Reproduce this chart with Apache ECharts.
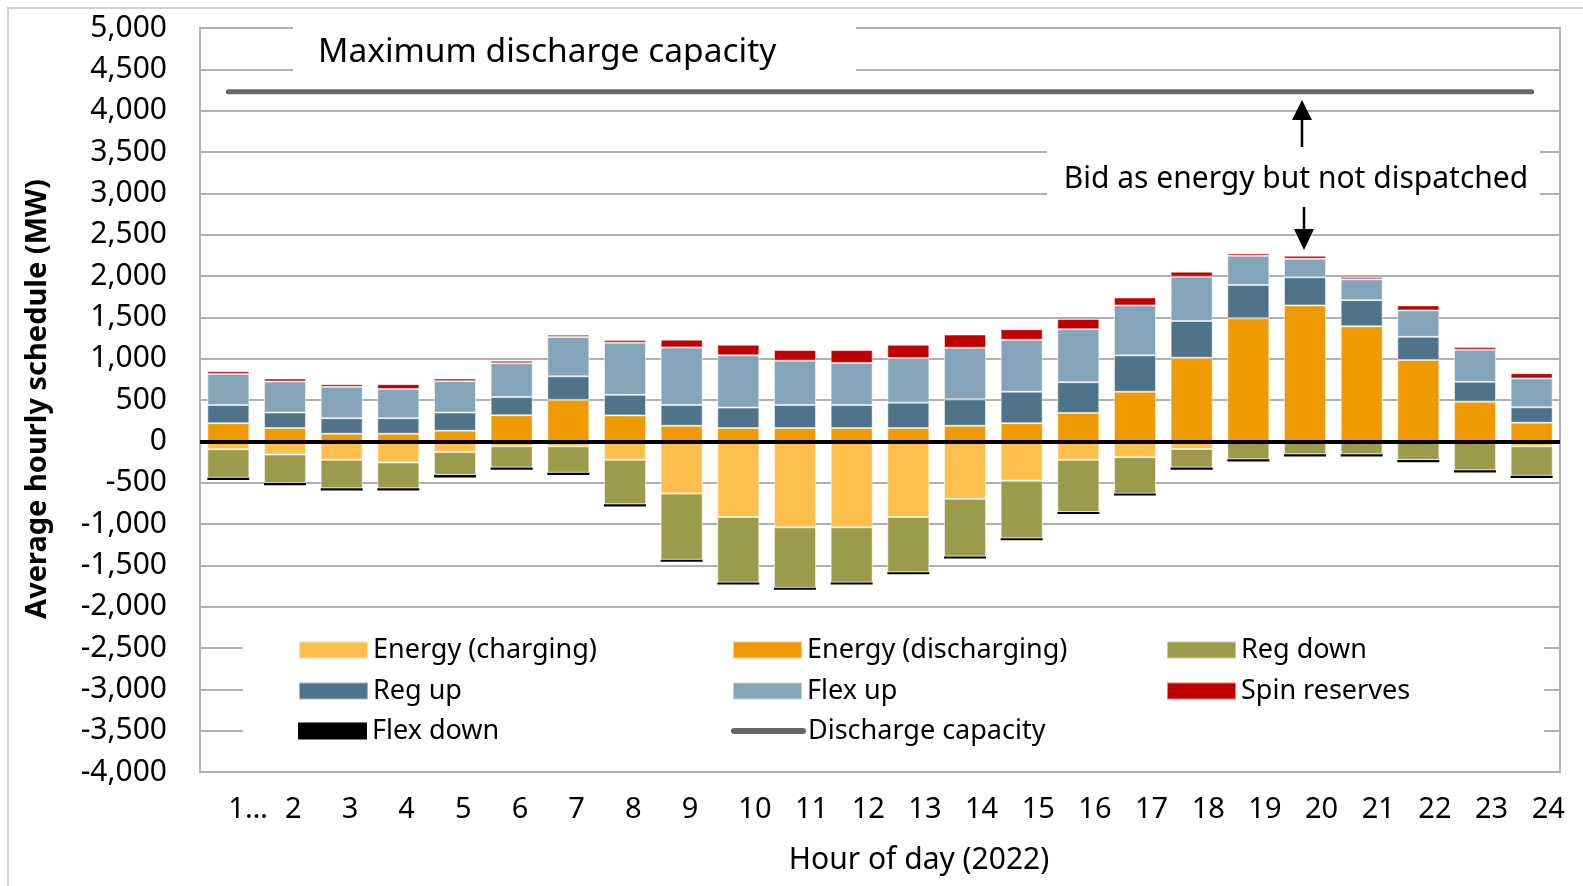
<!DOCTYPE html>
<html>
<head>
<meta charset="utf-8">
<script src="https://cdn.jsdelivr.net/npm/echarts@6/dist/echarts.min.js"></script>
<style>
  html, body { margin: 0; padding: 0; background: #fff; }
  #main { width: 1583px; height: 886px; }
</style>
</head>
<body>
<div id="main"></div>
<script>
// hours of the day, first label is cut off in the original
const hours = ['1…', '2', '3', '4', '5', '6', '7', '8', '9', '10', '11', '12',
  '13', '14', '15', '16', '17', '18', '19', '20', '21', '22', '23', '24'];
const yTicks = { min: -4000, max: 5000, step: 500 };

// MW
const energyCharging = [-96, -160, -224, -256, -128, -60, -60, -224, -632, -916, -1040, -1040,
  -916, -696, -476, -224, -192, -92, 0, 0, 0, 0, 0, -60];
const energyDischarging = [220, 160, 92, 92, 128, 316, 502, 314, 188, 160, 160, 160,
  160, 188, 220, 344, 600, 1012, 1488, 1644, 1392, 984, 480, 224];
const regDown = [-344, -344, -344, -312, -280, -256, -320, -536, -800, -792, -732, -668,
  -668, -696, -696, -632, -440, -224, -216, -156, -156, -226, -350, -356];
const regUp = [220, 188, 188, 188, 220, 220, 284, 248, 252, 248, 280, 280,
  308, 320, 380, 372, 440, 444, 404, 340, 316, 280, 240, 188];
const flexUp = [376, 376, 380, 352, 380, 408, 476, 632, 696, 632, 536, 508,
  540, 624, 628, 640, 604, 536, 352, 224, 252, 320, 388, 348];
const spinReserves = [32, 36, 32, 60, 32, 32, 28, 32, 94, 128, 128, 156,
  160, 160, 128, 124, 96, 60, 28, 36, 28, 60, 32, 64];
const flexDown = [-28, -28, -28, -28, -28, -28, -28, -28, -24, -24, -24, -24,
  -24, -24, -24, -24, -24, -28, -28, -28, -28, -28, -28, -28];
const dischargeCapacity = new Array(24).fill(4230);

const FONT = "'Noto Sans', 'Open Sans', sans-serif";
const GRID_GRAY = '#b0b0b0';

const chart = echarts.init(document.getElementById('main'), null, { renderer: 'canvas' });

function barSeries(name, data, color, border) {
  return {
    name: name,
    type: 'bar',
    stack: 'schedule',
    barWidth: 42,
    data: data,
    itemStyle: {
      color: color,
      borderColor: border ? 'rgba(255,255,255,0.5)' : color,
      borderWidth: border ? 1 : 0
    },
    emphasis: { disabled: true }
  };
}

const legendText = { fontFamily: FONT, fontSize: 27, color: '#000', width: 349, lineHeight: 30 };
function legendRow(top, names) {
  return {
    left: 298,
    top: top,
    width: 1320,
    padding: 0,
    orient: 'horizontal',
    itemWidth: 69,
    itemHeight: 17,
    itemGap: 10,
    selectedMode: false,
    textStyle: legendText,
    data: names
  };
}
const rect = n => ({ name: n, icon: 'rect' });

var option = {
  backgroundColor: '#fff',
  animation: false,
  textStyle: { fontFamily: FONT },
  grid: {
    left: 200,
    right: 23,
    top: 28,
    bottom: 114,
    containLabel: false,
    outerBoundsMode: 'none',
    show: true,
    borderColor: GRID_GRAY,
    borderWidth: 2,
    backgroundColor: 'transparent'
  },
  legend: [
    legendRow(635, [rect('Energy (charging)'), rect('Energy (discharging)'), rect('Reg down')]),
    legendRow(676, [rect('Reg up'), rect('Flex up'), rect('Spin reserves')]),
    legendRow(716, [rect('Flex down'), {
      name: 'Discharge capacity',
      itemStyle: { opacity: 0 },
      lineStyle: { color: '#666666', width: 6, cap: 'round' }
    }])
  ],
  xAxis: {
    type: 'category',
    data: hours,
    position: 'bottom',
    axisLine: { show: true, onZero: false, lineStyle: { color: GRID_GRAY, width: 2 } },
    axisTick: { show: false },
    axisLabel: { color: '#000', fontFamily: FONT, fontSize: 29, margin: 23, interval: 0, align: 'left' },
    splitLine: { show: false }
  },
  yAxis: {
    type: 'value',
    min: yTicks.min,
    max: yTicks.max,
    interval: yTicks.step,
    axisLine: { show: true, lineStyle: { color: GRID_GRAY, width: 2 } },
    axisTick: { show: false },
    axisLabel: {
      color: '#000', fontFamily: FONT, fontSize: 30, margin: 33,
      formatter: v => v.toLocaleString('en-US')
    },
    splitLine: { show: true, lineStyle: { color: GRID_GRAY, width: 2 } }
  },
  series: [
    barSeries('Energy (charging)', energyCharging, '#FFBF4F', true),
    barSeries('Energy (discharging)', energyDischarging, '#EE9A00', true),
    barSeries('Reg down', regDown, '#9C9B4B', true),
    barSeries('Reg up', regUp, '#4F7489', true),
    barSeries('Flex up', flexUp, '#84A5B9', true),
    barSeries('Spin reserves', spinReserves, '#C00000', true),
    barSeries('Flex down', flexDown, '#000000', false),
    {
      name: 'Discharge capacity',
      type: 'line',
      data: dischargeCapacity,
      symbol: 'none',
      lineStyle: { color: '#666666', width: 5, cap: 'round' },
      itemStyle: { color: '#666666' },
      emphasis: { disabled: true },
      // heavy zero line across the plot
      markLine: {
        silent: true,
        symbol: ['none', 'none'],
        label: { show: false },
        lineStyle: { color: '#000', width: 4, type: 'solid' },
        data: [{ yAxis: 0 }]
      }
    }
  ],
  graphic: [
    // outer chart frame
    { type: 'rect', z: 1, shape: { x: 8, y: 8, width: 1600, height: 900 },
      style: { fill: 'none', stroke: '#d0d0d0', lineWidth: 2 } },
    // white boxes behind the annotations and the legend
    { type: 'rect', z: 1, shape: { x: 293, y: 14, width: 563, height: 68 }, style: { fill: '#fff' } },
    { type: 'rect', z: 1, shape: { x: 1047, y: 138, width: 493, height: 68 }, style: { fill: '#fff' } },
    { type: 'rect', z: 1, shape: { x: 243, y: 616, width: 1301, height: 136 }, style: { fill: '#fff' } },
    { type: 'text', z: 6, x: 318, y: 52,
      style: { text: 'Maximum discharge capacity', font: '33.5px ' + FONT, fill: '#000', verticalAlign: 'middle' } },
    { type: 'text', z: 6, x: 1296, y: 179,
      style: { text: 'Bid as energy but not dispatched', font: '30px ' + FONT, fill: '#000',
        align: 'center', verticalAlign: 'middle' } },
    // arrows
    { type: 'line', z: 6, shape: { x1: 1302, y1: 147, x2: 1302, y2: 116 }, style: { stroke: '#000', lineWidth: 2.5 } },
    { type: 'polygon', z: 6, shape: { points: [[1292, 120], [1312, 120], [1302, 100]] }, style: { fill: '#000' } },
    { type: 'line', z: 6, shape: { x1: 1304, y1: 207, x2: 1304, y2: 233 }, style: { stroke: '#000', lineWidth: 2.5 } },
    { type: 'polygon', z: 6, shape: { points: [[1294, 229], [1314, 229], [1304, 250]] }, style: { fill: '#000' } },
    // axis titles
    { type: 'text', z: 6, x: 38, y: 399, rotation: Math.PI / 2,
      style: { text: 'Average hourly schedule (MW)', font: 'bold 29px ' + FONT, fill: '#000',
        align: 'center', verticalAlign: 'middle' } },
    { type: 'text', z: 6, x: 919, y: 860,
      style: { text: 'Hour of day (2022)', font: '30px ' + FONT, fill: '#000',
        align: 'center', verticalAlign: 'middle' } }
  ]
};

chart.setOption(option);
</script>
</body>
</html>
